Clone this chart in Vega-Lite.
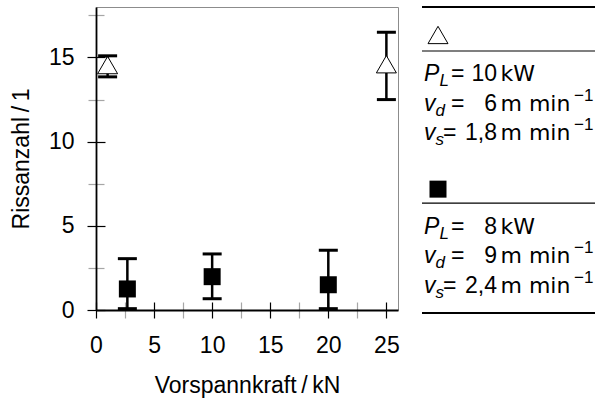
{
  "$schema": "https://vega.github.io/schema/vega-lite/v6.json",
  "padding": {"left": 9, "top": 5, "right": 0, "bottom": 0},
  "config": {"font": "Liberation Sans", "view": {"stroke": null}},
  "spacing": 20,
  "hconcat": [
    {
      "width": 302,
      "height": 303,
      "view": {"stroke": "#8c8c8c", "strokeWidth": 1},
      "data": {"values": [
        {"serie": "A", "kraft": 1, "risse": 14.55, "lo": 13.85, "hi": 15.1},
        {"serie": "A", "kraft": 25, "risse": 14.6, "lo": 12.5, "hi": 16.5},
        {"serie": "B", "kraft": 2.7, "risse": 1.25, "lo": 0.08, "hi": 3.05},
        {"serie": "B", "kraft": 10, "risse": 1.98, "lo": 0.67, "hi": 3.33},
        {"serie": "B", "kraft": 20, "risse": 1.5, "lo": 0.08, "hi": 3.55}
      ]},
      "layer": [
        {
          "mark": {"type": "rule", "strokeWidth": 2.5, "color": "black"},
          "encoding": {
            "x": {"field": "kraft", "type": "quantitative",
              "scale": {"domain": [0, 26], "nice": false, "zero": false},
              "axis": {"orient": "bottom", "values": [0, 5, 10, 15, 20, 25],
                "offset": -8, "tickSize": 16, "tickWidth": 1.2, "tickColor": "black",
                "domain": false, "grid": false, "labelOverlap": false, "labelFlush": false,
                "labelFontSize": 23, "labelColor": "black", "labelPadding": 16,
                "title": "Vorspannkraft\u2009/\u2009kN", "titleFontSize": 23, "titleFontWeight": "normal", "titleColor": "black", "titlePadding": 17}},
            "y": {"field": "lo", "type": "quantitative",
              "scale": {"domain": [0, 18], "nice": false, "zero": false},
              "axis": {"orient": "left", "values": [0, 5, 10, 15],
                "offset": -9, "tickSize": 18, "tickWidth": 1.2, "tickColor": "black",
                "domain": false, "grid": false, "labelOverlap": false, "labelFlush": false,
                "labelFontSize": 23, "labelColor": "black", "labelPadding": 13,
                "title": "Rissanzahl\u2009/\u20091", "titleFontSize": 23, "titleFontWeight": "normal", "titleColor": "black", "titlePadding": 15}},
            "y2": {"field": "hi"}
          }
        },
        {
          "transform": [{"filter": "datum.serie === 'A'"}],
          "mark": {"type": "point", "shape": "triangle-up", "size": 400, "filled": true, "fill": "white", "stroke": "black", "strokeWidth": 1, "opacity": 1},
          "encoding": {
            "x": {"field": "kraft", "type": "quantitative",
              "axis": {"orient": "bottom", "values": [2.5, 7.5, 12.5, 17.5, 22.5], "offset": -8, "tickSize": 16, "tickWidth": 1.2, "tickColor": "#a6a6a6",
                "domain": false, "labels": false, "grid": false, "title": null}},
            "y": {"field": "risse", "type": "quantitative",
              "axis": {"orient": "left", "values": [2.5, 7.5, 12.5, 17.5], "offset": -8, "tickSize": 16, "tickWidth": 1.2, "tickColor": "#a6a6a6",
                "domain": false, "labels": false, "grid": false, "title": null}}
          }
        },
        {
          "transform": [{"filter": "datum.serie === 'B'"}],
          "mark": {"type": "square", "size": 289, "color": "black", "opacity": 1},
          "encoding": {
            "x": {"field": "kraft", "type": "quantitative",
              "axis": {"orient": "bottom", "domain": true, "domainColor": "black", "domainWidth": 1.8, "ticks": false, "labels": false, "grid": false, "title": null}},
            "y": {"field": "risse", "type": "quantitative",
              "axis": {"orient": "left", "domain": true, "domainColor": "black", "domainWidth": 1.8, "ticks": false, "labels": false, "grid": false, "title": null}}
          }
        },
        {
          "mark": {"type": "tick", "orient": "horizontal", "size": 19, "thickness": 3, "color": "black", "opacity": 1},
          "encoding": {
            "x": {"field": "kraft", "type": "quantitative", "axis": null},
            "y": {"field": "lo", "type": "quantitative", "axis": null}
          }
        },
        {
          "mark": {"type": "tick", "orient": "horizontal", "size": 19, "thickness": 3, "color": "black", "opacity": 1},
          "encoding": {
            "x": {"field": "kraft", "type": "quantitative", "axis": null},
            "y": {"field": "hi", "type": "quantitative", "axis": null}
          }
        }
      ],
      "resolve": {"axis": {"x": "independent", "y": "independent"}}
    },
    {
      "width": 172,
      "height": 306,
      "data": {"values": [
        {"blk": 1, "line": 2.54, "sym": "P", "sub": "L", "num": "10", "unit": "kW"},
        {"blk": 1, "line": 3.57, "sym": "v", "sub": "d", "num": "6", "unit": "m min"},
        {"blk": 1, "line": 4.56, "sym": "v", "sub": "s", "num": "1,8", "unit": "m min"},
        {"blk": 2, "line": 7.79, "sym": "P", "sub": "L", "num": "8", "unit": "kW"},
        {"blk": 2, "line": 8.79, "sym": "v", "sub": "d", "num": "9", "unit": "m min"},
        {"blk": 2, "line": 9.81, "sym": "v", "sub": "s", "num": "2,4", "unit": "m min"}
      ]},
      "layer": [
        {
          "data": {"values": [{"line": 0}, {"line": 10.5}]},
          "mark": {"type": "rule", "strokeWidth": 2.2, "color": "black"},
          "encoding": {
            "x": {"datum": 0, "type": "quantitative", "scale": {"domain": [0, 172], "nice": false, "zero": false}, "axis": null},
            "x2": {"datum": 185},
            "y": {"field": "line", "type": "quantitative", "scale": {"domain": [0, 10.5], "nice": false, "zero": false, "reverse": true}, "axis": null}
          }
        },
        {
          "data": {"values": [{"line": 1.51}, {"line": 6.73}]},
          "mark": {"type": "rule", "strokeWidth": 1.2, "color": "black"},
          "encoding": {
            "x": {"datum": 0, "type": "quantitative", "axis": null},
            "x2": {"datum": 185},
            "y": {"field": "line", "type": "quantitative", "axis": null}
          }
        },
        {
          "data": {"values": [{"line": 0.96}]},
          "mark": {"type": "point", "shape": "triangle-up", "size": 400, "filled": true, "fill": "white", "stroke": "black", "strokeWidth": 1, "opacity": 1},
          "encoding": {
            "x": {"datum": 16, "type": "quantitative", "axis": null},
            "y": {"field": "line", "type": "quantitative", "axis": null}
          }
        },
        {
          "data": {"values": [{"line": 6.25}]},
          "mark": {"type": "square", "size": 289, "color": "black", "opacity": 1},
          "encoding": {
            "x": {"datum": 16, "type": "quantitative", "axis": null},
            "y": {"field": "line", "type": "quantitative", "axis": null}
          }
        },
        {
          "mark": {"type": "text", "align": "left", "baseline": "alphabetic", "fontSize": 23, "fontStyle": "italic", "color": "black"},
          "encoding": {
            "x": {"datum": 2, "type": "quantitative", "axis": null},
            "y": {"field": "line", "type": "quantitative", "axis": null},
            "text": {"field": "sym"}
          }
        },
        {
          "transform": [{"filter": "datum.sym === 'P'"}],
          "mark": {"type": "text", "align": "left", "baseline": "alphabetic", "fontSize": 17, "fontStyle": "italic", "dy": 5, "color": "black"},
          "encoding": {
            "x": {"datum": 17.5, "type": "quantitative", "axis": null},
            "y": {"field": "line", "type": "quantitative", "axis": null},
            "text": {"field": "sub"}
          }
        },
        {
          "transform": [{"filter": "datum.sym === 'v'"}],
          "mark": {"type": "text", "align": "left", "baseline": "alphabetic", "fontSize": 17, "fontStyle": "italic", "dy": 5, "color": "black"},
          "encoding": {
            "x": {"datum": 13.5, "type": "quantitative", "axis": null},
            "y": {"field": "line", "type": "quantitative", "axis": null},
            "text": {"field": "sub"}
          }
        },
        {
          "transform": [{"filter": "datum.sub !== 's'"}],
          "mark": {"type": "text", "align": "left", "baseline": "alphabetic", "fontSize": 23, "color": "black", "text": "="},
          "encoding": {
            "x": {"datum": 29, "type": "quantitative", "axis": null},
            "y": {"field": "line", "type": "quantitative", "axis": null}
          }
        },
        {
          "transform": [{"filter": "datum.sub === 's'"}],
          "mark": {"type": "text", "align": "left", "baseline": "alphabetic", "fontSize": 23, "color": "black", "text": "="},
          "encoding": {
            "x": {"datum": 21, "type": "quantitative", "axis": null},
            "y": {"field": "line", "type": "quantitative", "axis": null}
          }
        },
        {
          "mark": {"type": "text", "align": "right", "baseline": "alphabetic", "fontSize": 23, "color": "black"},
          "encoding": {
            "x": {"datum": 75, "type": "quantitative", "axis": null},
            "y": {"field": "line", "type": "quantitative", "axis": null},
            "text": {"field": "num"}
          }
        },
        {
          "mark": {"type": "text", "align": "left", "baseline": "alphabetic", "fontSize": 22, "font": "DejaVu Sans", "color": "black"},
          "encoding": {
            "x": {"datum": 78.5, "type": "quantitative", "axis": null},
            "y": {"field": "line", "type": "quantitative", "axis": null},
            "text": {"field": "unit"}
          }
        },
        {
          "transform": [{"filter": "datum.unit === 'm min'"}],
          "mark": {"type": "text", "align": "left", "baseline": "alphabetic", "fontSize": 17, "dy": -10, "color": "black", "text": "\u22121"},
          "encoding": {
            "x": {"datum": 152, "type": "quantitative", "axis": null},
            "y": {"field": "line", "type": "quantitative", "axis": null}
          }
        }
      ]
    }
  ]
}
